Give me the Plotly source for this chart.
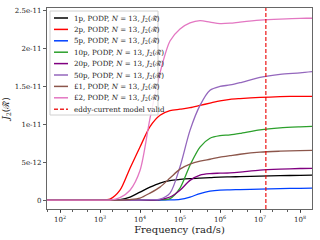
import plotly.graph_objects as go

# log10 of angular frequency sample points (rad/s)
LOG_FREQ = [1.6, 2.0, 2.5, 3.0, 3.25, 3.5, 3.75, 4.0, 4.25, 4.5, 4.75, 5.0,
            5.25, 5.5, 5.75, 6.0, 6.25, 6.5, 7.0, 7.5, 8.0, 8.4]

# J2 values in units of 1e-12
J2_1p  = [0, 0, 0, 0, 0, 0.07, 0.4, 1.05, 1.7, 2.24, 2.57, 2.72, 2.83, 2.9, 2.96, 3.03, 3.06, 3.09, 3.16, 3.22, 3.26, 3.29]
J2_2p  = [0, 0, 0, 0, 0.13, 1.3, 4.2, 7.0, 9.7, 11.2, 11.8, 12.0, 12.2, 12.5, 12.8, 13.1, 13.3, 13.4, 13.55, 13.65, 13.7, 13.7]
J2_5p  = [0, 0, 0, 0, 0, 0, 0, 0, 0, 0, 0.02, 0.1, 0.4, 0.86, 1.18, 1.32, 1.35, 1.38, 1.45, 1.51, 1.55, 1.58]
J2_10p = [0, 0, 0, 0, 0, 0, 0, 0, 0, 0.05, 0.2, 1.58, 4.6, 7.0, 8.16, 8.5, 8.6, 8.8, 9.28, 9.54, 9.67, 9.74]
J2_20p = [0, 0, 0, 0, 0, 0, 0, 0, 0, 0.07, 0.4, 1.3, 2.6, 3.3, 3.5, 3.55, 3.6, 3.7, 3.95, 4.08, 4.17, 4.2]
J2_50p = [0, 0, 0, 0, 0, 0, 0, 0, 0.05, 0.13, 0.92, 4.4, 9.2, 12.5, 14.5, 15.0, 15.2, 15.5, 16.2, 16.6, 16.8, 17.0]
J2_L1  = [0, 0, 0, 0, 0, 0, 0.07, 0.26, 0.92, 1.71, 2.9, 4.08, 4.74, 5.13, 5.39, 5.66, 5.86, 6.05, 6.32, 6.45, 6.54, 6.58]
J2_L2  = [0, 0, 0, 0, 0, 0.33, 1.3, 3.9, 10.8, 16.8, 21.0, 22.6, 23.4, 23.7, 23.5, 23.3, 23.35, 23.5, 23.75, 23.9, 24.0, 24.0]

SERIES_NAMES = ["1p", "2p", "5p", "10p", "20p", "50p", "£1", "£2"]
SERIES_VALUES = [J2_1p, J2_2p, J2_5p, J2_10p, J2_20p, J2_50p, J2_L1, J2_L2]
COLORS = ["#000000", "#ff0000", "#0040ff", "#2ca02c", "#800080", "#9467bd", "#8c564b", "#e377c2"]

EDDY_LIMIT = 1.4e7  # rad/s, eddy-current model validity limit
EDDY_NAME = "eddy-current model valid"
EDDY_COLOR = "rgba(235,0,0,0.85)"

Y_TICKS = [0, 5e-12, 1e-11, 1.5e-11, 2e-11, 2.5e-11]
Y_TICK_TEXT = ["0", "5e-12", "1e-11", "1.5e-11", "2e-11", "2.5e-11"]
X_TICKS = [1e2, 1e3, 1e4, 1e5, 1e6, 1e7, 1e8]
X_TICK_TEXT = ["10<sup>2</sup>", "10<sup>3</sup>", "10<sup>4</sup>", "10<sup>5</sup>",
               "10<sup>6</sup>", "10<sup>7</sup>", "10<sup>8</sup>"]

Y_MIN, Y_MAX = -1.18e-12, 2.536e-11
X_LOG_MIN, X_LOG_MAX = 1.675, 8.3

FONT = "DejaVu Serif"
RT = "\u211B\u0303"
freq = [10 ** e for e in LOG_FREQ]

fig = go.Figure()
labels = []
for name, vals, col in zip(SERIES_NAMES, SERIES_VALUES, COLORS):
    label = f"{name}, PODP, <i>N</i> = 13, <i>J</i><sub>2</sub>({RT})"
    labels.append((label, col, "solid"))
    fig.add_trace(go.Scatter(
        x=freq, y=[v * 1e-12 for v in vals], mode="lines",
        line=dict(color=col, width=1.3, shape="spline", smoothing=0.8),
        name=label, showlegend=False, hoverinfo="skip",
    ))

fig.add_trace(go.Scatter(
    x=[EDDY_LIMIT, EDDY_LIMIT], y=[Y_MIN, Y_MAX], mode="lines",
    line=dict(color=EDDY_COLOR, width=1.3, dash="4px,2px"),
    name=EDDY_NAME, showlegend=False, hoverinfo="skip",
))
labels.append((EDDY_NAME, EDDY_COLOR, "4px,2px"))

# manual legend (compact, matplotlib-like), in plot-area paper fractions
PW, PH = 265.0, 201.0
def fx(px):
    return (px - 47) / PW
def fy(py):
    return (209 - py) / PH

shapes = [dict(type="rect", xref="paper", yref="paper",
               x0=fx(50), x1=fx(158), y0=fy(115), y1=fy(11),
               line=dict(color="#d0d0d0", width=1), fillcolor="rgba(255,255,255,0.85)",
               layer="above")]
annotations = []
for i, (label, col, dash) in enumerate(labels):
    py = 18 + i * 11.4
    shapes.append(dict(type="line", xref="paper", yref="paper",
                       x0=fx(54), x1=fx(68), y0=fy(py), y1=fy(py),
                       line=dict(color=col, width=1.5, dash=dash), layer="above"))
    annotations.append(dict(xref="paper", yref="paper", x=fx(72), y=fy(py),
                            xanchor="left", yanchor="middle", showarrow=False,
                            text=label, font=dict(family=FONT, size=7.1, color="#222")))

fig.update_layout(
    width=320, height=240,
    margin=dict(l=47, r=8, t=8, b=31),
    paper_bgcolor="white", plot_bgcolor="white",
    font=dict(family=FONT, size=7, color="#222"),
    showlegend=False, hovermode=False,
    shapes=shapes, annotations=annotations,
    xaxis=dict(type="log", range=[X_LOG_MIN, X_LOG_MAX], tickvals=X_TICKS, ticktext=X_TICK_TEXT,
               ticks="outside", ticklen=3, tickwidth=0.8, tickcolor="#333", automargin=False,
               showgrid=False, zeroline=False, showline=True, linecolor="#666", linewidth=1.2,
               mirror=True,
               minor=dict(ticks="outside", ticklen=1.8, tickcolor="#333", showgrid=False),
               title=dict(text="Frequency (rad/s)", font=dict(family=FONT, size=10), standoff=2),
               tickfont=dict(family=FONT, size=7)),
    yaxis=dict(range=[Y_MIN, Y_MAX], tickvals=Y_TICKS, ticktext=Y_TICK_TEXT,
               ticks="outside", ticklen=3, tickwidth=0.8, tickcolor="#333", automargin=False,
               showgrid=False, zeroline=False, showline=True, linecolor="#666", linewidth=1.2,
               mirror=True,
               title=dict(text=f"<i>J</i><sub>2</sub>({RT})", font=dict(family=FONT, size=9), standoff=3),
               tickfont=dict(family=FONT, size=7)),
)

fig.write_html("out.html", config={"displayModeBar": False, "staticPlot": True},
               post_script="document.body.style.margin='0';document.body.style.overflow='hidden';")
